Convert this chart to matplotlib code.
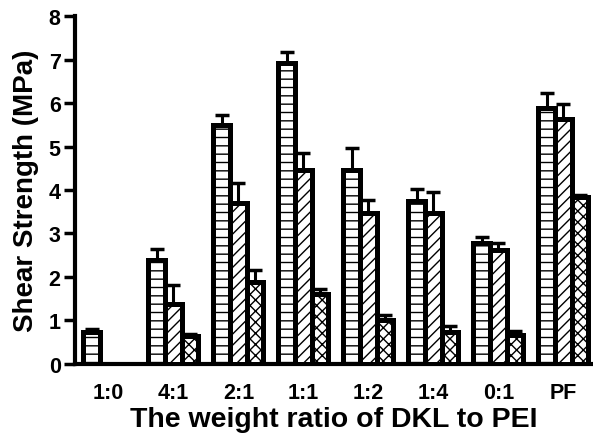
import numpy as np
import matplotlib
matplotlib.use("Agg")
import matplotlib.pyplot as plt

categories = ["1:0", "4:1", "2:1", "1:1", "1:2", "1:4", "0:1", "PF"]
series_a = [0.73, 2.39, 5.50, 6.92, 4.45, 3.75, 2.78, 5.89]
series_b = [np.nan, 1.37, 3.69, 4.47, 3.48, 3.46, 2.62, 5.63]
series_c = [np.nan, 0.64, 1.89, 1.61, 1.01, 0.72, 0.67, 3.85]
err_a = [0.07, 0.24, 0.22, 0.26, 0.52, 0.28, 0.13, 0.35]
err_b = [np.nan, 0.45, 0.47, 0.39, 0.30, 0.49, 0.16, 0.34]
err_c = [np.nan, 0.05, 0.26, 0.12, 0.10, 0.14, 0.09, 0.03]
yticks = [0, 1, 2, 3, 4, 5, 6, 7, 8]

plt.rcParams['font.family'] = ['Liberation Sans', 'DejaVu Sans']
plt.rcParams['font.weight'] = 'bold'
plt.rcParams['hatch.linewidth'] = 1.0

fig = plt.figure(figsize=(5.93, 4.39), dpi=100)
ax = fig.add_axes([75.3/593, (439-364.7)/439, 1 - 75.3/593, (364.7-17.3)/439])

x = np.arange(len(categories))
w = 0.257
hatches = ['--', '///', 'xxx']
for off, vals, errs, h in zip([-w, 0, w], [series_a, series_b, series_c],
                              [err_a, err_b, err_c], hatches):
    vals = np.array(vals, dtype=float)
    errs = np.array(errs, dtype=float)
    ax.bar(x + off, vals, width=w, facecolor='white', edgecolor='black',
           linewidth=3.6, hatch=h, zorder=3)
    ax.errorbar(x + off, vals, yerr=[np.zeros_like(errs), errs], fmt='none',
                ecolor='black', elinewidth=2.2, capsize=4.8, capthick=2.5, zorder=2)

ax.set_xlim(-0.509, 7.455)
ax.set_ylim(0, 8)
ax.set_yticks(yticks)
ax.set_xticks(x)
ax.set_xticklabels(categories)
for s in ['top', 'right']:
    ax.spines[s].set_visible(False)
for s in ['left', 'bottom']:
    ax.spines[s].set_linewidth(3)
ax.tick_params(axis='y', width=2.5, length=8, labelsize=15.5, pad=2.5)
ax.tick_params(axis='x', length=0, labelsize=15.5, pad=13)
ax.set_ylabel("Shear Strength (MPa)", fontsize=20, fontweight='bold', labelpad=7)
ax.set_xlabel("The weight ratio of DKL to PEI", fontsize=20.5, fontweight='bold', labelpad=2)

fig.savefig("out.png", dpi=100)
